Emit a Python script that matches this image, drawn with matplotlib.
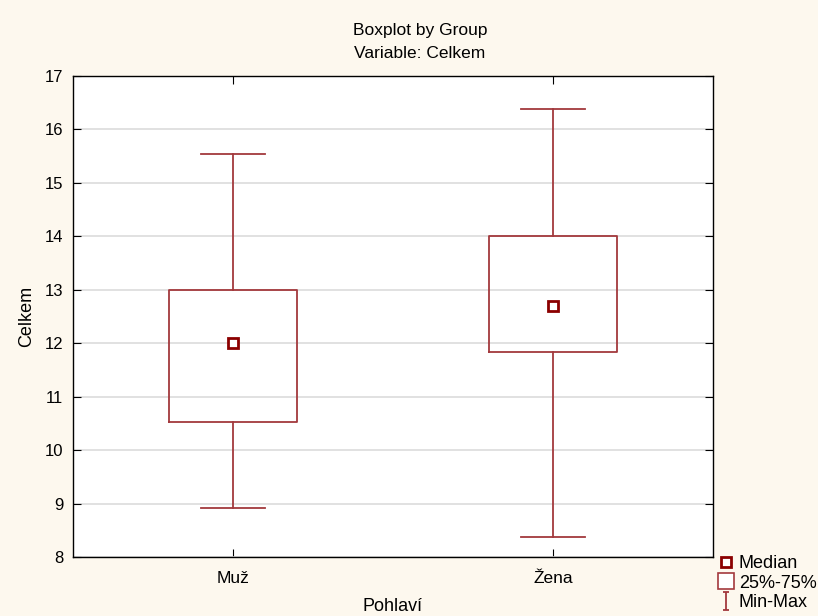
import matplotlib
matplotlib.use("Agg")
import matplotlib.pyplot as plt
from matplotlib.lines import Line2D
from matplotlib.path import Path

groups = ["Muž", "Žena"]
mins = [8.91, 8.37]
q1 = [10.52, 11.83]
medians = [12.0, 12.69]
q3 = [13.0, 14.0]
maxs = [15.54, 16.38]
yticks = [8, 9, 10, 11, 12, 13, 14, 15, 16, 17]

plt.rcParams['font.family'] = ['Liberation Sans', 'DejaVu Sans']
BOX = '#a3393d'
MED = '#8b0000'
BG = '#fdf8ee'

fig = plt.figure(figsize=(8.18, 6.16), dpi=100, facecolor=BG)
ax = fig.add_axes([73/818, 1-557/616, 640/818, 481/616])
ax.set_facecolor('white')

stats = []
for i, g in enumerate(groups):
    stats.append(dict(label=g, whislo=mins[i], q1=q1[i], med=medians[i],
                      q3=q3[i], whishi=maxs[i], fliers=[]))
ax.bxp(stats, positions=[1, 2], widths=0.4, capwidths=0.2, showfliers=False,
       boxprops=dict(color=BOX, linewidth=1.3),
       whiskerprops=dict(color=BOX, linewidth=1.3),
       capprops=dict(color=BOX, linewidth=1.3),
       medianprops=dict(linestyle='none'), zorder=3)
ax.plot([1, 2], medians, linestyle='none', marker='s', markersize=7,
        markerfacecolor='white', markeredgecolor=MED, markeredgewidth=2, zorder=4)

ax.set_xlim(0.5, 2.5)
ax.set_ylim(8, 17)
ax.set_yticks(yticks)
ax.set_xticks([1, 2])
ax.set_xticklabels(groups)
ax.yaxis.grid(True, color='#dcdcdc', linewidth=1.2, zorder=0)
ax.set_axisbelow(True)
ax.tick_params(axis='both', direction='in', length=6, top=True, right=True, color='black')
ax.tick_params(axis='y', pad=7, labelsize=12)
ax.tick_params(axis='x', pad=10, labelsize=12.5)
for s in ax.spines.values():
    s.set_linewidth(1.0)
    s.set_color('black')

ax.set_xlabel('Pohlaví', fontsize=13, labelpad=9)
ax.set_ylabel('Celkem', fontsize=13, labelpad=7)

fig.text(420/818, 1-30/616, 'Boxplot by Group', ha='center', va='center', fontsize=12.5)
fig.text(420/818, 1-53/616, 'Variable: Celkem', ha='center', va='center', fontsize=12.5)

ibeam = Path([(-0.35, -1), (0.35, -1), (0, -1), (0, 1), (-0.35, 1), (0.35, 1)],
             [Path.MOVETO, Path.LINETO, Path.MOVETO, Path.LINETO, Path.MOVETO, Path.LINETO])
handles = [
    Line2D([], [], linestyle='none', marker='s', markersize=7, markerfacecolor='white',
           markeredgecolor=MED, markeredgewidth=2),
    Line2D([], [], linestyle='none', marker='s', markersize=12, markerfacecolor='white',
           markeredgecolor=BOX, markeredgewidth=1.2),
    Line2D([], [], linestyle='none', marker=ibeam, markersize=13,
           markeredgecolor=BOX, markeredgewidth=1.3),
]
fig.legend(handles, ['Median', '25%-75%', 'Min-Max'], loc='upper left',
           bbox_to_anchor=(719/818, 1-555/616), frameon=False, fontsize=13,
           handlelength=0.8, handletextpad=0.3, labelspacing=0.15, borderpad=0,
           borderaxespad=0)

fig.savefig('out.png', dpi=100, facecolor=BG)
